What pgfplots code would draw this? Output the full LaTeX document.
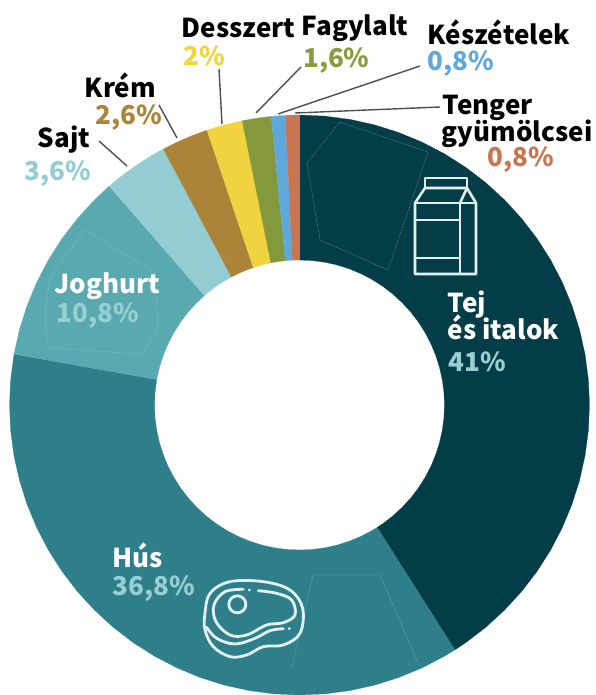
\documentclass[border=0pt]{standalone}
\usepackage{fontspec}
\setmainfont{Noto Sans CJK SC}
\usepackage{pgfplots}
\pgfplotsset{compat=1.18}
\usepgfplotslibrary{polar}
\definecolor{ctej}{HTML}{033D47}
\definecolor{chus}{HTML}{2F7F8B}
\definecolor{cjog}{HTML}{59A9B0}
\definecolor{csaj}{HTML}{93CDD3}
\definecolor{ckre}{HTML}{AB8439}
\definecolor{cdes}{HTML}{F0D33F}
\definecolor{cfag}{HTML}{84993B}
\definecolor{ckes}{HTML}{5FA8DC}
\definecolor{cten}{HTML}{C97551}
\definecolor{ptxt}{HTML}{97CFD2}
\definecolor{ctext}{HTML}{8A9A3F}
\definecolor{lead}{HTML}{4A4F52}
\definecolor{ico}{HTML}{E2F0F0}
\newcommand{\lab}[4][black]{\node[anchor=base west,inner sep=0pt,text=#1,font=\fontsize{26}{26}\selectfont\bfseries] at (#2,#3) {#4};}
\begin{document}
\begin{tikzpicture}
\path[use as bounding box] (0,0) rectangle (595pt,-695pt);
\begin{polaraxis}[at={(299.5pt,-405pt)},anchor=center,scale only axis,width=580pt,height=580pt,
  hide axis,clip=false,xmin=0,xmax=360,ymin=0,ymax=290]
% Tej 41
\addplot[fill=ctej,draw=ctej,line width=0.2pt] coordinates {(90,290)(85,290)(80,290)(75,290)(70,290)(65,290)(60,290)(55,290)(50,290)(45,290)(40,290)(35,290)(30,290)(25,290)(20,290)(15,290)(10,290)(5,290)(0,290)(-5,290)(-10,290)(-15,290)(-20,290)(-25,290)(-30,290)(-35,290)(-40,290)(-45,290)(-50,290)(-55,290)(-57.6,290)
(-57.6,145)(-55,145)(-50,145)(-45,145)(-40,145)(-35,145)(-30,145)(-25,145)(-20,145)(-15,145)(-10,145)(-5,145)(0,145)(5,145)(10,145)(15,145)(20,145)(25,145)(30,145)(35,145)(40,145)(45,145)(50,145)(55,145)(60,145)(65,145)(70,145)(75,145)(80,145)(85,145)(90,145)} --cycle;
% Hus 36.8
\addplot[fill=chus,draw=chus,line width=0.2pt] coordinates {(-57.6,290)(-60,290)(-65,290)(-70,290)(-75,290)(-80,290)(-85,290)(-90,290)(-95,290)(-100,290)(-105,290)(-110,290)(-115,290)(-120,290)(-125,290)(-130,290)(-135,290)(-140,290)(-145,290)(-150,290)(-155,290)(-160,290)(-165,290)(-170,290)(-175,290)(-180,290)(-185,290)(-190.1,290)
(-190.1,145)(-185,145)(-180,145)(-175,145)(-170,145)(-165,145)(-160,145)(-155,145)(-150,145)(-145,145)(-140,145)(-135,145)(-130,145)(-125,145)(-120,145)(-115,145)(-110,145)(-105,145)(-100,145)(-95,145)(-90,145)(-85,145)(-80,145)(-75,145)(-70,145)(-65,145)(-60,145)(-57.6,145)} --cycle;
% Joghurt 10.8
\addplot[fill=cjog,draw=cjog,line width=0.2pt] coordinates {(-190.1,290)(-195,290)(-200,290)(-205,290)(-210,290)(-215,290)(-220,290)(-225,290)(-229,290)
(-229,145)(-225,145)(-220,145)(-215,145)(-210,145)(-205,145)(-200,145)(-195,145)(-190.1,145)} --cycle;
% Sajt 3.6
\addplot[fill=csaj,draw=csaj,line width=0.2pt] coordinates {(-229,290)(-232,290)(-236,290)(-239,290)(-242,290)(-242,145)(-239,145)(-236,145)(-232,145)(-229,145)} --cycle;
% Krem 2.6
\addplot[fill=ckre,draw=ckre,line width=0.2pt] coordinates {(-242,290)(-245,290)(-248,290)(-251.4,290)(-251.4,145)(-248,145)(-245,145)(-242,145)} --cycle;
% Desszert 2
\addplot[fill=cdes,draw=cdes,line width=0.2pt] coordinates {(-251.4,290)(-255,290)(-258.6,290)(-258.6,145)(-255,145)(-251.4,145)} --cycle;
% Fagylalt 1.6
\addplot[fill=cfag,draw=cfag,line width=0.2pt] coordinates {(-258.6,290)(-261.5,290)(-264.4,290)(-264.4,145)(-261.5,145)(-258.6,145)} --cycle;
% Keszetelek 0.8
\addplot[fill=ckes,draw=ckes,line width=0.2pt] coordinates {(-264.4,290)(-267.2,290)(-267.2,145)(-264.4,145)} --cycle;
% Tenger 0.8
\addplot[fill=cten,draw=cten,line width=0.2pt] coordinates {(-267.2,290)(-270,290)(-270,145)(-267.2,145)} --cycle;
\end{polaraxis}
\begin{scope}[x=1pt,y=-1pt]
% leaders
\draw[lead,line width=1.4pt] (99,141)--(127,166);
\draw[lead,line width=1.4pt] (159,105)--(177,138);
\draw[lead,line width=1.4pt] (219,69)--(222,124);
\draw[lead,line width=1.4pt] (256,113)--(301,67);
\draw[lead,line width=1.4pt] (278,114)--(420,66);
\draw[lead,line width=1.4pt] (295,113)--(440,107);
% dashed decoration
\draw[white!40!ctej,line width=0.35pt,dash pattern=on 2pt off 1pt] (340,122)--(428,152)--(388,270)--(320,240)--(307,163)--cycle;
\draw[white!30!cjog,line width=0.35pt,dash pattern=on 2pt off 1pt] (85,230)--(155,273)--(158,327)--(142,354)--(48,348)--(45,313)--(50,277)--cycle;
\draw[white!25!chus,line width=0.35pt] (292,667)--(313,575)--(380,575)--(419,665);
% milk carton
\begin{scope}[ico,line width=2.6pt,line join=round]
\draw (425,178) rectangle (467,188);
\draw (425,188)--(415,203)--(415,274)--(476,274)--(476,203)--(467,188)--cycle;
\draw (415,203)--(476,203);
\draw (460,203)--(460,274);
\draw (460,203)--(467,188);
\draw (415,220)--(460,220);
\draw (415,258)--(460,258);
\end{scope}
% meat
\begin{scope}[xshift=180pt,yshift=-540pt,x=0.3333pt,y=-0.3333pt,ico,line width=2.8pt,line cap=round]
\draw plot[smooth cycle,tension=0.6] coordinates {(75,220)(90,160)(150,125)(250,125)(330,150)(368,205)(360,280)(310,315)(250,320)(200,345)(150,350)(100,320)(75,270)};
\draw plot[smooth,tension=0.6] coordinates {(190,148)(135,155)(102,195)(108,245)(150,285)(200,285)(260,255)(310,248)(345,225)(335,180)(290,160)(235,152)};
\draw plot[smooth,tension=0.6] coordinates {(80,262)(110,295)(165,312)(225,295)(270,272)(310,266)};
\draw (172,193) circle [radius=8.5pt];
\fill (208,150) circle [radius=1.5pt];
\fill (328,266) circle [radius=1.5pt];
\end{scope}
% labels
\lab{181.5}{38}{Desszert}
\lab[cdes]{183}{66}{2\%}
\lab{301.5}{36}{Fagylalt}
\lab[ctext]{303}{68}{1,6\%}
\lab{427.5}{45}{Készételek}
\lab[ckes]{427}{71}{0,8\%}
\lab{442.5}{115}{Tenger}
\lab{441.5}{142}{gyümölcsei}
\lab[cten]{487}{167}{0,8\%}
\lab{84.5}{98}{Krém}
\lab[ckre]{95.5}{125}{2,6\%}
\lab{37.5}{148}{Sajt}
\lab[csaj]{24.5}{180}{3,6\%}
\lab[white]{54.5}{293}{Joghurt}
\lab[ptxt]{56.5}{322}{10,8\%}
\lab[white]{447.5}{312}{Tej}
\lab[white]{447.5}{339}{és italok}
\lab[ptxt]{448.5}{371}{41\%}
\lab[white]{112.5}{567}{Hús}
\lab[ptxt]{112.5}{595}{36,8\%}
\end{scope}
\end{tikzpicture}
\end{document}
